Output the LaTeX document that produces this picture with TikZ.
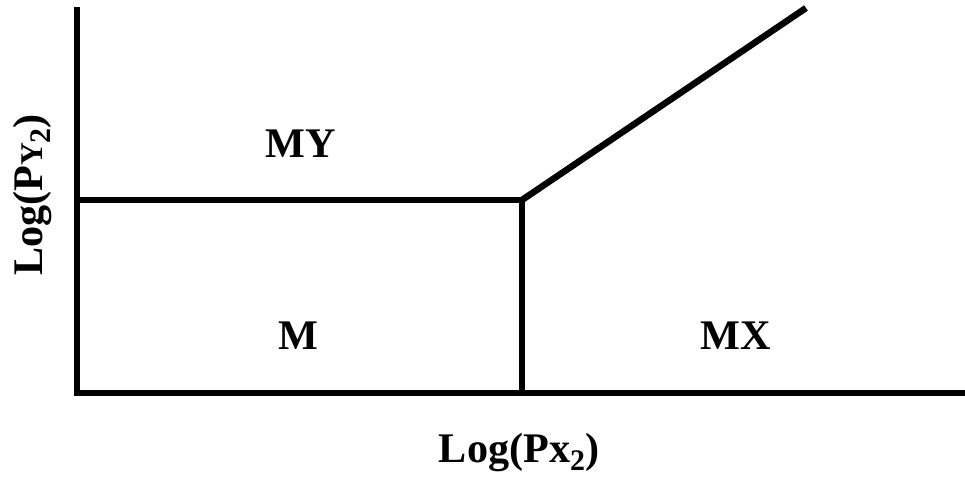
\documentclass[tikz,border=0pt]{standalone}
\usepackage{fontspec}
\setmainfont{Liberation Serif}
\newcommand{\subtwo}{\raisebox{-5pt}{\fontsize{17}{20}\selectfont 2}}

\begin{document}
\begin{tikzpicture}[x=0.02cm,y=-0.02cm,
    phase/.style={line width=0.13cm},
    lab/.style={font=\bfseries\fontsize{24}{28}\selectfont,anchor=base,inner sep=0pt}]
    \useasboundingbox (0,0) rectangle (965,481);
    \coordinate (O) at (77,393);
    \coordinate (Ytop) at (77,7);
    \coordinate (Xend) at (965,393);
    \coordinate (L) at (77,200);
    \coordinate (T) at (522,200);
    \coordinate (B) at (522,393);
    \coordinate (D) at (806,8);

    \draw[phase] (Ytop)--(O)--(Xend);
    \draw[phase] (L)--(T)--(B);
    \draw[phase] (T)--(D);

    \node[lab] (my) at (301,157) {MY};
    \node[lab] (m) at (298,349) {M};
    \node[lab] (mx) at (736,349) {MX};
    \node[lab] (xl) at (519,462) {Log(Px\subtwo)};
    \node[lab,rotate=90] (yl) at (42,195) {Log(P{\fontsize{18}{20}\selectfont Y}\subtwo)};
\end{tikzpicture}
\end{document}
